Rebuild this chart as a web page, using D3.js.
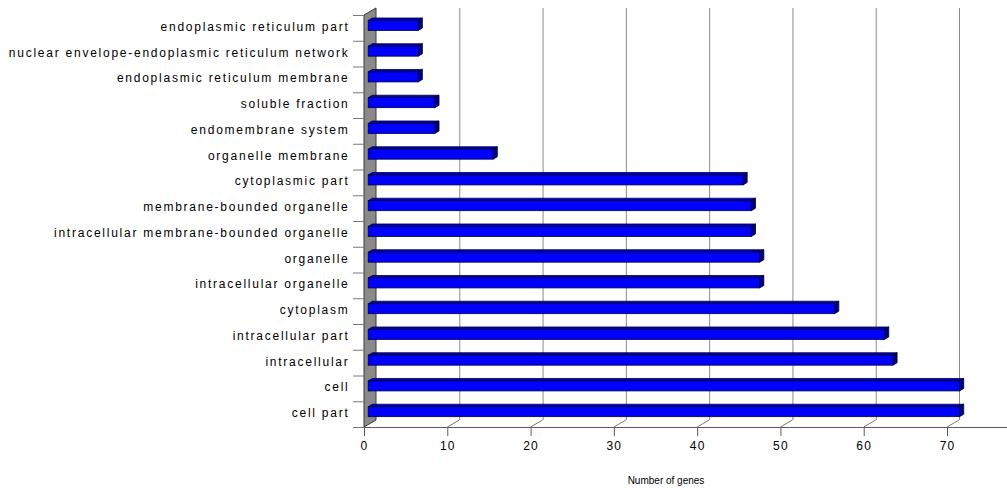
<!DOCTYPE html>
<html>
<head>
<meta charset="utf-8">
<script src="https://cdn.jsdelivr.net/npm/d3@7"></script>
<style>
  html, body { margin: 0; padding: 0; background: #fff; }
  svg { display: block; }
  text { font-family: "Liberation Sans", Arial, sans-serif; fill: #000; }
</style>
</head>
<body>
<svg id="chart" width="1007" height="488"></svg>
<script>
// GO cellular component terms and their gene counts
const categories = [
  "endoplasmic reticulum part",
  "nuclear envelope-endoplasmic reticulum network",
  "endoplasmic reticulum membrane",
  "soluble fraction",
  "endomembrane system",
  "organelle membrane",
  "cytoplasmic part",
  "membrane-bounded organelle",
  "intracellular membrane-bounded organelle",
  "organelle",
  "intracellular organelle",
  "cytoplasm",
  "intracellular part",
  "intracellular",
  "cell",
  "cell part"
];
const geneCounts = [6, 6, 6, 8, 8, 15, 45, 46, 46, 47, 47, 56, 62, 63, 71, 71];
const xTicks = [0, 10, 20, 30, 40, 50, 60, 70];
const xTitle = "Number of genes";

const svg = d3.select("#chart");

// front plane scales
const x = d3.scaleLinear().domain([0, 70]).range([364, 947]);
const y = d3.scaleBand().domain(categories).range([15, 427]);

// pseudo-3D depth: full depth of the plot box and the bar slab
const DX = 12, DY = -7;
const depth = t => [DX * t, DY * t];
const barFront = 0.35, barBack = 0.7;
const barHalf = 5;
const floorY = y.range()[1];
const topY = y.range()[0];
const xRight = 1007;

// side wall (grey, at the value axis origin)
const [bx, by] = depth(1);
svg.append("path")
  .attr("d", `M${x(0)},${topY} L${x(0) + bx},${topY + by} L${x(0) + bx},${floorY + by} L${x(0)},${floorY} Z`)
  .attr("fill", "#8a8a8a")
  .attr("stroke", "#3a3a3a")
  .attr("stroke-width", 1);

// back wall grid lines
svg.append("g").selectAll("line")
  .data(xTicks.filter(d => d > 0))
  .join("line")
  .attr("x1", d => x(d) + bx + 0.5).attr("x2", d => x(d) + bx + 0.5)
  .attr("y1", topY + by).attr("y2", floorY + by)
  .attr("stroke", "#8c8c8c").attr("stroke-width", 1);

// floor edge, ticks and their depth connectors
svg.append("line")
  .attr("x1", 353).attr("x2", xRight)
  .attr("y1", floorY + 0.5).attr("y2", floorY + 0.5)
  .attr("stroke", "#5a5a5a").attr("stroke-width", 1);

const tickG = svg.append("g");
tickG.selectAll("line.tick")
  .data(xTicks)
  .join("line")
  .attr("class", "tick")
  .attr("x1", d => x(d) + 0.5).attr("x2", d => x(d) + 0.5)
  .attr("y1", floorY).attr("y2", floorY + 9)
  .attr("stroke", "#5a5a5a");
tickG.selectAll("line.conn")
  .data(xTicks.filter(d => d > 0))
  .join("line")
  .attr("class", "conn")
  .attr("x1", d => x(d)).attr("x2", d => x(d) + bx)
  .attr("y1", floorY).attr("y2", floorY + by)
  .attr("stroke", "#7a7a7a");
tickG.selectAll("text")
  .data(xTicks)
  .join("text")
  .attr("x", d => x(d) + 0.5)
  .attr("y", 450)
  .attr("text-anchor", "middle")
  .attr("font-size", 12)
  .attr("letter-spacing", 1.2)
  .text(d => d);

// category ticks on the front-left edge
svg.append("g").selectAll("line")
  .data(d3.range(categories.length + 1))
  .join("line")
  .attr("x1", 353).attr("x2", x(0))
  .attr("y1", i => topY + i * y.step() + 0.5)
  .attr("y2", i => topY + i * y.step() + 0.5)
  .attr("stroke", "#7a7a7a");

// category labels
svg.append("g").selectAll("text")
  .data(categories)
  .join("text")
  .attr("x", 349.5)
  .attr("y", d => y(d) + y.bandwidth() / 2 + 3)
  .attr("text-anchor", "end")
  .attr("font-size", 12)
  .attr("letter-spacing", 1.75)
  .text(d => d);

// 3D bars: top face, end face, front face
const bars = svg.append("g").selectAll("g")
  .data(categories.map((c, i) => ({ c, v: geneCounts[i] })))
  .join("g");

const [fx, fy] = depth(barFront);
const [kx, ky] = depth(barBack);

bars.each(function (d) {
  const g = d3.select(this);
  const yc = y(d.c) + y.bandwidth() / 2;
  const x0 = x(0), x1 = x(d.v);
  const t = yc - barHalf, b = yc + barHalf;
  // top face
  g.append("path")
    .attr("d", `M${x0 + fx},${t + fy} L${x0 + kx},${t + ky} L${x1 + kx},${t + ky} L${x1 + fx},${t + fy} Z`)
    .attr("fill", "#0000b8").attr("stroke", "#000040").attr("stroke-width", 0.8);
  // end face
  g.append("path")
    .attr("d", `M${x1 + fx},${t + fy} L${x1 + kx},${t + ky} L${x1 + kx},${b + ky} L${x1 + fx},${b + fy} Z`)
    .attr("fill", "#000080").attr("stroke", "#000030").attr("stroke-width", 0.8);
  // front face
  g.append("rect")
    .attr("x", x0 + fx).attr("y", t + fy)
    .attr("width", x1 - x0).attr("height", b - t)
    .attr("fill", "#0000ff").attr("stroke", "#000040").attr("stroke-width", 0.8);
});

// value axis title
svg.append("text")
  .attr("x", 666).attr("y", 484)
  .attr("text-anchor", "middle")
  .attr("font-size", 10)
  .text(xTitle);
</script>
</body>
</html>
